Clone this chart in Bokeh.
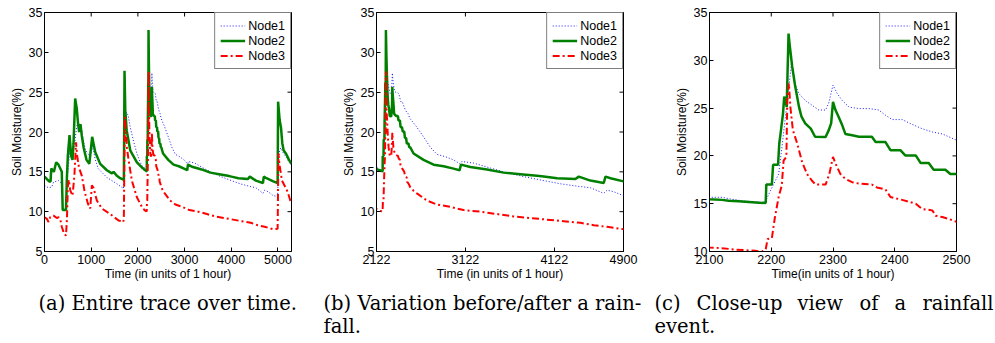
from bokeh.plotting import figure
from bokeh.models import Range1d, FixedTicker
from bokeh.layouts import row, column
from bokeh.embed import file_html
from bokeh.resources import INLINE
from bokeh.core.properties import value
import math

# ---------------- data ----------------
t1 = [0, 86, 157, 193, 300, 371, 392, 460, 480, 510, 540, 586, 640, 700, 780, 830, 871, 921, 980,
      1030, 1090, 1150, 1336, 1550, 1693, 1710, 1750, 1790, 1836, 1900, 1979, 2050,
      2100, 2120, 2137, 2153, 2174, 2190, 2199, 2212, 2218, 2223, 2228, 2233, 2239, 2245, 2255,
      2266, 2277, 2288, 2293, 2300, 2307, 2315, 2326, 2342, 2358, 2374, 2385, 2396, 2412, 2428,
      2444, 2461, 2477, 2498,
      2576, 2651, 2726, 2802, 2895, 2989, 3064, 3083, 3214, 3365, 3552, 3778, 4003, 4190, 4378,
      4528, 4678, 4716, 4791, 4900,
      4993, 5005, 5030, 5060, 5100, 5180, 5240, 5290]
node1 = [13.3, 13.0, 13.1, 13.7, 13.9, 13.5, 10.4, 10.4, 14.0, 15.5, 17.5, 16.5, 18.5, 21.0, 20.9,
         19.0, 17.9, 17.3, 17.0, 18.2, 16.5, 15.4, 14.3, 13.5, 12.9, 18.0, 22.5, 22.1, 20.6, 19.0,
         17.3, 16.2,
         15.67, 15.67, 15.46, 15.3, 15.2, 15.15, 16.4, 18.1, 21.3, 24.1, 26.9, 29.8, 27.4, 26.5, 25.8,
         25.3, 24.8, 24.8, 25.5, 27.4, 26.5, 25.8, 25.1, 24.95, 24.95, 24.8, 24.25, 23.8, 23.8, 23.3,
         22.85, 22.5, 22.3, 21.7,
         20.6, 19.4, 18.1, 17.2, 16.9, 16.5, 16.0, 16.3, 16.1, 15.6, 15.0, 14.4, 13.9, 13.5, 13.2,
         13.0, 12.3, 12.7, 12.5, 12.0,
         11.9, 15.0, 17.5, 18.0, 17.5, 16.8, 16.2, 15.8]

t2 = [0, 100, 130, 145, 200, 250, 300, 370, 390, 460, 480, 500, 536, 571, 600, 621, 657, 690, 720,
      743, 770, 800, 840, 900, 960, 1021, 1086, 1193, 1336, 1443, 1479, 1550, 1620, 1700, 1714,
      1730, 1760, 1836, 1979,
      2100, 2120, 2131, 2147, 2158, 2180, 2191, 2192, 2201, 2203, 2211, 2213, 2215, 2219, 2221,
      2223, 2225, 2228, 2229.5, 2234, 2239, 2245, 2249, 2255, 2264, 2271, 2288, 2293, 2297, 2300,
      2304, 2309, 2315, 2320, 2331, 2342, 2363, 2369, 2385, 2393, 2409, 2417, 2434, 2442, 2455,
      2463, 2482, 2490, 2500,
      2539, 2651, 2764, 2877, 2989, 3057, 3072, 3177, 3365, 3552, 3740, 3928, 4003, 4153, 4359,
      4397, 4528, 4678, 4697, 4754, 4900,
      4993, 5003, 5036, 5064, 5093, 5121, 5179, 5236, 5290]
node2 = [14.4, 13.8, 13.8, 15.4, 15.0, 16.2, 15.9, 15.0, 10.2, 10.2, 14.3, 17.0, 19.6, 17.0, 16.5,
         18.5, 24.2, 23.0, 21.0, 20.0, 21.0, 19.5, 18.0, 16.5, 16.0, 19.4, 17.5, 16.0, 15.2, 14.8,
         15.0, 14.5, 14.2, 14.0, 27.7, 22.7, 20.2, 17.7, 16.2,
         15.46, 15.4, 15.3, 15.25, 15.2, 15.1, 15.08, 17.0, 17.0, 19.07, 19.07, 21.3, 22.3, 24.4, 26.2,
         25.8, 25.1, 32.8, 31.8, 29.3, 27.2, 25.1, 24.1, 23.4, 22.85, 22.0, 21.97, 22.67, 23.4, 25.65,
         24.8, 24.1, 23.2, 22.3, 22.15, 22.0, 22.0, 21.45, 21.45, 20.6, 20.6, 20.05, 20.05, 19.25, 19.25,
         18.55, 18.55, 18.1, 18.1,
         17.3, 16.5, 15.9, 15.7, 15.4, 15.2, 15.9, 15.6, 15.3, 14.9, 14.7, 14.5, 14.4, 14.2, 14.1,
         14.4, 13.9, 13.6, 14.4, 14.2, 13.8,
         13.6, 23.8, 21.5, 20.6, 18.6, 17.7, 17.2, 16.5, 16.0]

t3 = [0, 50, 86, 121, 193, 264, 300, 336, 371, 420, 460, 480, 500, 520, 550, 600, 640, 675, 700,
      740, 800, 860, 930, 980, 1014, 1050, 1121, 1229, 1407, 1586, 1690, 1700, 1720, 1764, 1800,
      1871, 1979, 2086,
      2100, 2120, 2142, 2158, 2174, 2185, 2191, 2194, 2201, 2206, 2212, 2217, 2220, 2224.5, 2226,
      2228.5, 2231, 2235, 2242, 2250, 2258, 2266, 2272, 2288, 2294, 2300, 2304, 2312, 2320, 2331,
      2342, 2363, 2371, 2385, 2393, 2412, 2434, 2444, 2461, 2466, 2477, 2488, 2500,
      2540, 2576, 2689, 2802, 2952, 3102, 3290, 3477, 3665, 3853, 4040, 4228, 4416, 4566, 4716,
      4900,
      4993, 5010, 5030, 5086, 5157, 5207, 5264, 5290]
node3 = [9.3, 9.1, 8.7, 9.3, 9.5, 9.2, 9.3, 9.1, 8.1, 7.2, 7.0, 9.0, 13.1, 14.0, 12.7, 12.0, 14.5,
         18.7, 17.0, 15.5, 14.5, 12.5, 11.0, 10.4, 13.3, 13.0, 11.4, 10.4, 9.7, 8.9, 8.7, 9.5, 21.9,
         18.1, 16.5, 13.9, 11.8, 10.6,
         10.42, 10.35, 10.2, 10.14, 10.07, 10.0, 10.2, 11.3, 11.4, 13.6, 15.7, 16.9, 19.5, 19.9, 25.8,
         27.6, 25.1, 22.7, 21.3, 19.35, 18.1, 17.4, 17.0, 17.0, 18.1, 19.9, 19.2, 18.1, 17.6, 17.25,
         17.1, 17.0, 16.7, 16.5, 15.7, 15.4, 15.0, 14.45, 14.3, 13.75, 13.6, 13.4, 13.1,
         12.6, 12.3, 11.4, 10.9, 10.6, 10.2, 10.0, 9.7, 9.4, 9.2, 9.0, 8.8, 8.6, 8.3, 8.1,
         7.8,
         7.85, 17.3, 16.0, 13.9, 13.1, 12.5, 11.4, 11.2]

series_names = ["Node1", "Node2", "Node3"]

xticks_a = [0, 1000, 2000, 3000, 4000, 5000]
xticks_b = [2122, 3122, 4122, 4900]
xticks_c = [2100, 2200, 2300, 2400, 2500]
yticks_ab = [5, 10, 15, 20, 25, 30, 35]
yticks_c = [10, 15, 20, 25, 30, 35]

x_label_ab = "Time (in units of 1 hour)"
x_label_c = "Time(in units of 1 hour)"
y_label = "Soil Moisture(%)"

captions = ["(a) Entire trace over time.", "(b) Variation before/after a rain-", "fall.",
            "(c)", "Close-up", "view", "of", "a", "rainfall", "event."]

# ---------------- layout / style ----------------
SANS = "Liberation Sans"
PLOT_H = 285


def style_axis(ax, ticker, label, standoff, label_standoff):
    ax.ticker = ticker
    ax.axis_label = label
    ax.axis_label_text_font = SANS
    ax.axis_label_text_font_size = "12px"
    ax.axis_label_text_font_style = "normal"
    ax.axis_label_text_color = "black"
    ax.axis_label_standoff = label_standoff
    ax.major_label_text_font = SANS
    ax.major_label_text_font_size = "12.5px"
    ax.major_label_text_color = "black"
    ax.major_label_standoff = standoff
    ax.major_tick_in = 4
    ax.major_tick_out = 0
    ax.minor_tick_line_color = None
    ax.axis_line_color = "black"
    ax.major_tick_line_color = "black"


def make_panel(xr, yr, xticks, yticks, xlabel, width, left, right):
    p = figure(width=width, height=PLOT_H, x_range=Range1d(*xr), y_range=Range1d(*yr),
               output_backend="svg", toolbar_location=None,
               min_border_left=left, min_border_right=right,
               min_border_top=12, min_border_bottom=34)
    p.grid.visible = False
    p.outline_line_color = "black"
    p.outline_line_width = 1
    p.background_fill_color = "white"
    p.border_fill_color = "white"
    xt = FixedTicker(ticks=xticks)
    yt = FixedTicker(ticks=yticks)
    style_axis(p.below[0], xt, xlabel, 3, 0)
    style_axis(p.left[0], yt, y_label, 2, 2)

    p.line(t1, node1, legend_label=series_names[0], line_color="#0000ff", line_width=1,
           line_dash="1 2", line_alpha=0.9)
    p.line(t2, node2, legend_label=series_names[1], line_color="#008000", line_width=2.5)
    p.line(t3, node3, legend_label=series_names[2], line_color="#ff0000", line_width=2,
           line_dash="7 3 2 3")

    # inward ticks on the top and right edges (MATLAB box style)
    p.scatter(x=xticks, y=[yr[1]] * len(xticks), marker="dash", size=8, angle=math.pi / 2,
              line_color="black", line_width=1)
    p.scatter(x=[xr[1]] * len(yticks), y=yticks, marker="dash", size=8,
              line_color="black", line_width=1)

    lg = p.legend[0]
    lg.location = "top_right"
    lg.margin = 0
    lg.padding = 5
    lg.spacing = 0
    lg.label_height = 15
    lg.glyph_height = 15
    lg.glyph_width = 25
    lg.label_standoff = 3
    lg.label_text_font = SANS
    lg.label_text_font_size = "12.5px"
    lg.label_text_color = "black"
    lg.border_line_color = "black"
    lg.border_line_width = 1
    lg.background_fill_alpha = 1.0
    return p


pa = make_panel((0, 5290), (5, 35), xticks_a, yticks_ab, x_label_ab, 335, 44, 44)
pb = make_panel((2122, 4900), (5, 35), xticks_b, yticks_ab, x_label_ab, 335, 41, 47)
pc = make_panel((2100, 2500), (10, 35), xticks_c, yticks_c, x_label_c, 325, 39, 39)

cap = figure(width=995, height=343 - PLOT_H, x_range=Range1d(0, 995),
             y_range=Range1d(343 - PLOT_H, 0), x_axis_type=None, y_axis_type=None,
             output_backend="svg", toolbar_location=None, min_border=0)
cap.grid.visible = False
cap.outline_line_color = None
cap_x = [38, 323, 323, 654, 696, 797, 859, 894, 922, 654]
cap_y = [18, 18, 41, 18, 18, 18, 18, 18, 18, 41]
cap.text(x=cap_x, y=cap_y, text=captions, text_font=value("DejaVu Serif"),
         text_font_size="19.5px", text_baseline="alphabetic", text_align="left",
         text_color="black")

layout = column(row(pa, pb, pc), cap)
open("out.html", "w").write(file_html(layout, INLINE))
